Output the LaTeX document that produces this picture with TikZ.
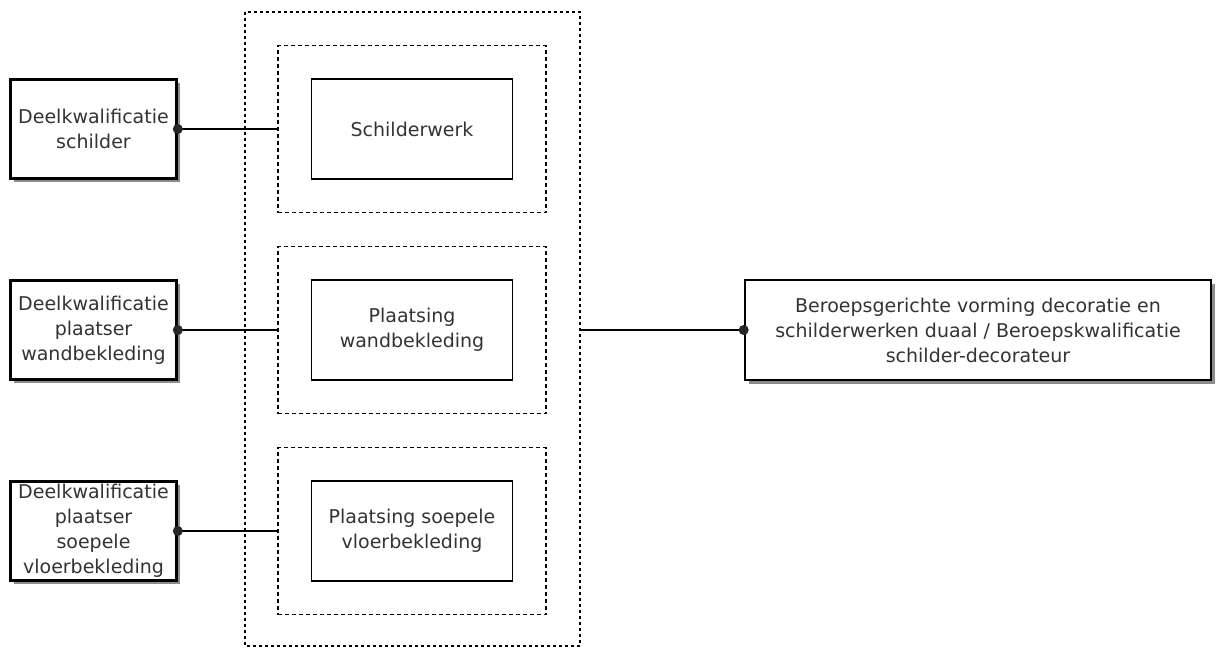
\documentclass[tikz,border=0pt]{standalone}
\usepackage{fontspec}
\setmainfont{DejaVu Sans}
\usetikzlibrary{arrows.meta,shadows}

\begin{document}
\begin{tikzpicture}[x=1pt,y=-1pt,
	every node/.style={font=\fontsize{19}{25}\selectfont, text=black!80, align=center, inner sep=0pt},
	kwal/.style={draw, line width=2.6pt, fill=white, minimum width=166pt, minimum height=99pt,
		drop shadow={shadow xshift=3.5pt, shadow yshift=-3.5pt, fill=black!50, opacity=.9}},
	deel/.style={draw, line width=1.4pt, minimum width=201pt, minimum height=100pt},
	groep/.style={draw, line width=1.6pt, dash pattern=on 4pt off 3pt, minimum width=268pt, minimum height=167pt},
	lijn/.style={line width=1.3pt},
	punt/.style={fill=black!85}
	]
\useasboundingbox (0,0) rectangle (1217,648);

\path (93.5,129) node[kwal] (schilder) {Deelkwalificatie\\schilder}
		(93.5,330) node[kwal] (wand) {Deelkwalificatie\\plaatser\\wandbekleding}
		(93.5,531) node[kwal] (vloer) {Deelkwalificatie\\plaatser\\soepele\\vloerbekleding}
		(412,129) node[deel] (werk) {Schilderwerk}
		(412,330) node[deel] (pwand) {Plaatsing\\wandbekleding}
		(412,531) node[deel] (pvloer) {Plaatsing soepele\\vloerbekleding}
		(412,129) node[groep] (g1) {}
		(412,330) node[groep] (g2) {}
		(412,531) node[groep] (g3) {}
		(978,330) node[kwal, minimum width=466pt, minimum height=100pt] (beroep)
			{Beroepsgerichte vorming decoratie en\\schilderwerken duaal / Beroepskwalificatie\\schilder-decorateur}
		;

\draw [line width=1.6pt, dash pattern=on 3pt off 3pt] (245,12) rectangle (580,646);
\coordinate (uit) at (580,330);

\draw [lijn] (schilder.east) -- (g1.west);
\draw [lijn] (wand.east) -- (g2.west);
\draw [lijn] (vloer.east) -- (g3.west);
\draw [lijn] (uit) -- (beroep.west);
\fill [punt] (schilder.east) circle (5pt) (wand.east) circle (5pt) (vloer.east) circle (5pt) (beroep.west) circle (5pt);
\end{tikzpicture}
\end{document}
